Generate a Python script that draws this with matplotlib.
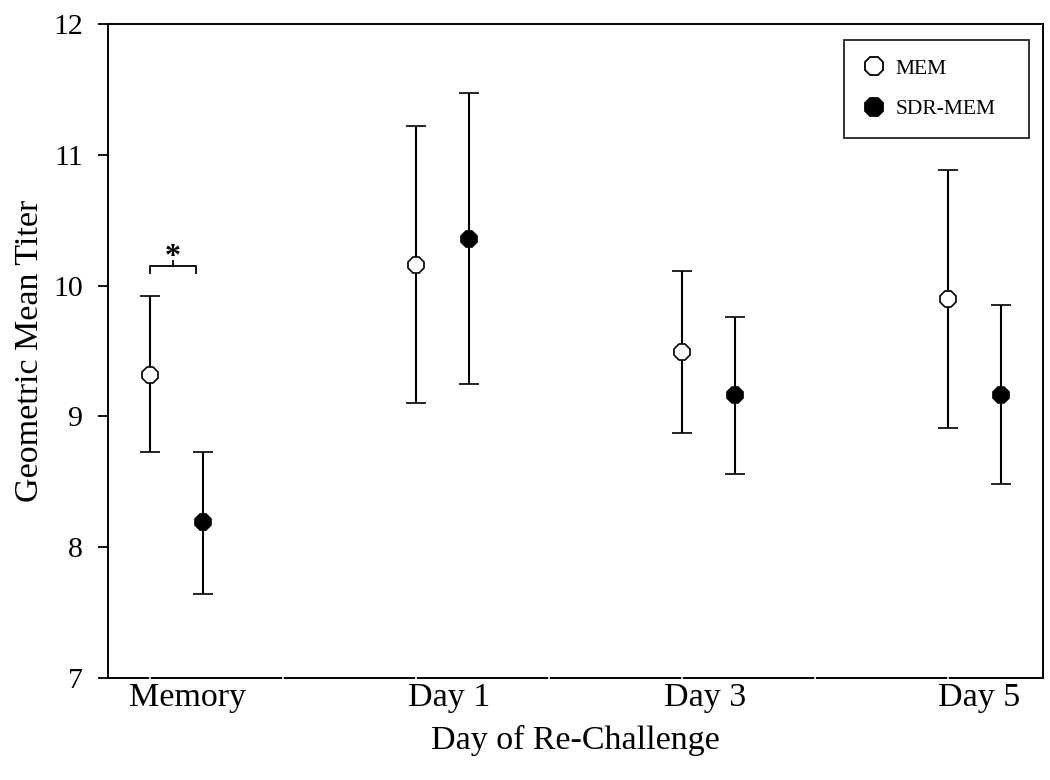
import matplotlib
matplotlib.use("Agg")
import matplotlib.pyplot as plt
from matplotlib.lines import Line2D
import numpy as np

plt.rcParams['font.family'] = ['Liberation Serif', 'DejaVu Serif']

# ---- data ----
categories = ["Memory", "Day 1", "Day 3", "Day 5"]
mem_mean = [9.32, 10.16, 9.49, 9.90]
mem_upper = [9.92, 11.22, 10.11, 10.88]
mem_lower = [8.73, 9.10, 8.87, 8.91]
sdr_mean = [8.19, 10.36, 9.16, 9.16]
sdr_upper = [8.73, 11.47, 9.76, 9.85]
sdr_lower = [7.64, 9.25, 8.56, 8.48]
yticks = [7, 8, 9, 10, 11, 12]
sig_level = 10.15

# ---- layout ----
group_pos = np.arange(len(categories)) * 2.0
offset = 0.4
label_shift = [0.28, 0.25, 0.17, 0.23]

fig = plt.figure(figsize=(10.5, 7.8), dpi=100)
ax = fig.add_axes([108 / 1050, 1 - 678 / 780, (1043 - 108) / 1050, (678 - 24) / 780])

x_mem = group_pos
x_sdr = group_pos + offset

def err(mean, lo, hi):
    m = np.array(mean); return [m - np.array(lo), np.array(hi) - m]

ax.errorbar(x_mem, mem_mean, yerr=err(mem_mean, mem_lower, mem_upper), fmt='8',
            color='black', mfc='white', mec='black', mew=1.2, ms=13,
            elinewidth=1.5, capsize=7.5, capthick=1.5, zorder=3)
ax.errorbar(x_sdr, sdr_mean, yerr=err(sdr_mean, sdr_lower, sdr_upper), fmt='8',
            color='black', mfc='black', mec='black', mew=1.2, ms=13,
            elinewidth=1.5, capsize=7.5, capthick=1.5, zorder=3)

# significance bracket
bx0 = x_mem[0]
bx1 = x_mem[0] + 0.345
bxm = (bx0 + bx1) / 2
ax.plot([bx0, bx0, bx1, bx1], [sig_level - 0.05, sig_level, sig_level, sig_level - 0.05],
        color='black', lw=1.3, solid_joinstyle='miter')
ax.plot([bxm, bxm], [sig_level, sig_level + 0.04], color='black', lw=1.3)
ax.text(bxm, sig_level - 0.045, '*', ha='center', va='bottom', fontsize=23,
        fontweight='bold')

ax.set_xlim(-0.316, 6.714)
ax.set_ylim(7, 12)
ax.set_yticks(yticks)
ax.set_yticklabels([str(v) for v in yticks], fontsize=21.5)
ax.tick_params(axis='y', direction='out', length=7.2, width=1.3, pad=11, right=False)

ax.set_xticks(group_pos + np.array(label_shift))
ax.set_xticklabels(categories, fontsize=24.5)
ax.tick_params(axis='x', which='major', length=0, pad=3)
ax.set_xticks(np.arange(0, 7), minor=True)
ax.tick_params(axis='x', which='minor', direction='inout', length=4, width=1.2,
               color='white')
ax.xaxis.set_zorder(3)

for s in ax.spines.values():
    s.set_linewidth(1.4)
    s.set_color('black')

ax.set_xlabel('Day of Re-Challenge', fontsize=24.5, labelpad=9)
ax.set_ylabel('Geometric Mean Titer', fontsize=24.5, labelpad=6)

handles = [
    Line2D([], [], linestyle='none', marker='8', ms=14.4, mfc='white', mec='black', mew=1.3),
    Line2D([], [], linestyle='none', marker='8', ms=14.4, mfc='black', mec='black', mew=1.3),
]
lx0 = (844 - 108) / 935
lw_ = (1029 - 844) / 935
ly1 = (678 - 40) / 654
ly0 = (678 - 138) / 654
leg = ax.legend(handles, ['MEM', 'SDR-MEM'], loc='upper left',
                bbox_to_anchor=(lx0, ly0, lw_, ly1 - ly0), mode='expand',
                fontsize=15.5, frameon=True, fancybox=False, shadow=False,
                handlelength=1.0, handletextpad=0.5, borderpad=0.88, labelspacing=0.93,
                borderaxespad=0)
leg.get_frame().set_edgecolor('black')
leg.get_frame().set_linewidth(1.4)

fig.savefig('out.png', dpi=100)
